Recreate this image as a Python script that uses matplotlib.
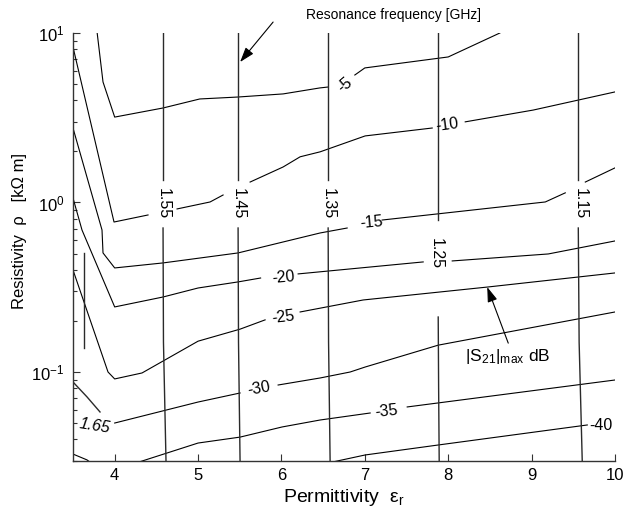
import math
import matplotlib
matplotlib.use("Agg")
import matplotlib.pyplot as plt
from matplotlib.ticker import FixedLocator, FuncFormatter, LogLocator, NullFormatter

plt.rcParams['font.family'] = ['Liberation Sans', 'DejaVu Sans']
plt.rcParams['mathtext.fontset'] = 'custom'
plt.rcParams['mathtext.rm'] = 'Liberation Sans'
plt.rcParams['mathtext.it'] = 'Liberation Sans:italic'
plt.rcParams['mathtext.default'] = 'regular'

# |S21|max contours (dB), each level is a list of (x, y) pieces, gaps where the labels sit
s21_m5 = [([3.79, 3.86, 4.0, 4.58, 5.02, 5.48, 6.02, 6.46, 6.56],
           [10, 5.14, 3.19, 3.61, 4.08, 4.19, 4.37, 4.74, 4.80]),
          ([6.88, 7.0, 8.0, 8.62], [5.65, 6.22, 7.22, 10])]
s21_m10 = [([3.5, 3.944, 3.992, 4.40], [8.27, 0.967, 0.767, 0.844]),
           ([4.748, 5.144, 5.30], [0.916, 1.007, 1.107]),
           ([5.624, 6.02, 6.224, 6.464, 7.004, 7.808], [1.32, 1.62, 1.86, 1.99, 2.47, 2.75]),
           ([8.204, 9.02, 10.0], [2.99, 3.51, 4.49])]
s21_m15 = [([3.5, 3.848, 3.86, 4.0, 4.58, 5.48, 6.464, 6.788],
            [2.75, 0.688, 0.504, 0.411, 0.44, 0.504, 0.661, 0.707]),
           ([7.208, 9.164, 9.404], [0.788, 1.007, 1.14]),
           ([9.644, 10.0], [1.32, 1.60])]
s21_m20 = [([3.5, 3.608, 4.0, 4.58, 5.0, 5.48, 5.75], [1.063, 0.688, 0.242, 0.277, 0.313, 0.340, 0.3585]),
           ([6.20, 7.70], [0.379, 0.446]),
           ([8.048, 9.20, 10.0], [0.452, 0.497, 0.593])]
s21_m25 = [([3.5, 3.92, 4.0, 4.328, 5.0, 5.504, 5.804],
            [0.400, 0.100, 0.091, 0.0987, 0.152, 0.179, 0.203]),
           ([6.224, 6.98, 8.468, 10.0], [0.226, 0.266, 0.317, 0.384])]
s21_m30 = [([4.0, 5.0, 5.504], [0.050, 0.0665, 0.0752]),
           ([5.96, 6.464, 6.824, 7.004, 7.88, 10.0], [0.0838, 0.0922, 0.100, 0.107, 0.144, 0.226])]
s21_m35 = [([4.25, 5.0, 5.504, 6.008, 6.464, 7.064], [0.029, 0.0381, 0.0413, 0.0474, 0.0521, 0.0573]),
           ([7.508, 10.0], [0.0622, 0.0897])]
s21_m40 = [([6.55, 7.004, 7.88, 9.668], [0.029, 0.0324, 0.0371, 0.0487])]
s21_corner = [([3.5, 3.668, 3.72], [0.0328, 0.0303, 0.029])]

s21_levels = [s21_m5, s21_m10, s21_m15, s21_m20, s21_m25, s21_m30, s21_m35, s21_m40, s21_corner]
s21_texts = ['-5', '-10', '-15', '-20', '-25', '-30', '-35', '-40']
s21_text_x = [6.76, 7.988, 7.076, 6.02, 6.02, 5.73, 7.256, 9.836]
s21_text_y = [4.93, 2.87, 0.757, 0.363, 0.211, 0.0794, 0.0589, 0.0481]
s21_text_rot = [40, 8, 5, 5, 7, 10, 6, 0]

# resonance frequency contours (GHz)
f165 = [([3.5, 3.668, 3.824], [0.0873, 0.0713, 0.0581]),
        ([3.632, 3.632], [0.504, 0.1385])]
f155 = [([4.58, 4.58], [10, 1.36]), ([4.58, 4.585, 4.616], [0.707, 0.15, 0.029])]
f145 = [([5.48, 5.48], [10, 1.36]), ([5.48, 5.485, 5.504], [0.707, 0.15, 0.029])]
f135 = [([6.56, 6.56], [10, 1.36]), ([6.56, 6.565, 6.584], [0.707, 0.15, 0.029])]
f125 = [([7.88, 7.88], [10, 0.788]), ([7.88, 7.885, 7.892], [0.211, 0.08, 0.029])]
f115 = [([9.56, 9.56], [10, 1.36]), ([9.56, 9.57, 9.608], [0.707, 0.15, 0.029])]

freq_levels = [f165, f155, f145, f135, f125, f115]
freq_texts = ['1.65', '1.55', '1.45', '1.35', '1.25', '1.15']
freq_text_x = [3.764, 4.58, 5.48, 6.56, 7.856, 9.584]
freq_text_y = [0.0481, 0.98, 0.98, 0.98, 0.497, 0.98]
freq_text_rot = [-9, -90, -90, -90, -90, -90]

x_ticks = [4, 5, 6, 7, 8, 9, 10]
y_ticks = [0.1, 1, 10]

fig = plt.figure(figsize=(6.26, 5.16), dpi=100)
ax = fig.add_axes([0.1166, 0.1066, 0.8658, 0.8295])

for level in s21_levels:
    for xs, ys in level:
        ax.plot(xs, ys, color='black', lw=0.8)
for level in freq_levels:
    for xs, ys in level:
        ax.plot(xs, ys, color='#2a2a2a', lw=1.0)

for t, x, y, r in zip(s21_texts, s21_text_x, s21_text_y, s21_text_rot):
    ax.text(x, y, t, ha='center', va='center', rotation=r, fontsize=11.5,
            rotation_mode='anchor')
for t, x, y, r in zip(freq_texts, freq_text_x, freq_text_y, freq_text_rot):
    # the small tilted label down at the left looks slanted in the original
    ax.text(x, y, t, ha='center', va='center', rotation=r, fontsize=11.5,
            rotation_mode='anchor', style='italic' if r != -90 else 'normal')

ax.set_yscale('log')
ax.set_xlim(3.5, 10)
ax.set_ylim(10 ** -1.525, 10)

ax.xaxis.set_major_locator(FixedLocator(x_ticks))
ax.yaxis.set_major_locator(FixedLocator(y_ticks))
ax.yaxis.set_minor_locator(LogLocator(base=10, subs=range(2, 10)))
ax.yaxis.set_minor_formatter(NullFormatter())
ax.yaxis.set_major_formatter(FuncFormatter(lambda v, p: r'$10^{%d}$' % round(math.log10(v))))

ax.tick_params(which='major', direction='in', length=5, width=0.8, labelsize=12,
               color='#333333', pad=6)
ax.tick_params(which='minor', direction='in', length=3, width=0.8, color='#333333')
ax.tick_params(axis='x', pad=5)
for side in ['top', 'right']:
    ax.spines[side].set_visible(False)
for side in ['left', 'bottom']:
    ax.spines[side].set_color('#333333')
    ax.spines[side].set_linewidth(1.0)

ax.set_xlabel(r'Permittivity  $ε_r$', fontsize=14)
ax.xaxis.set_label_coords(0.50, -0.06)
ax.set_ylabel('Resistivity  ρ   [kΩ m]', fontsize=12)
ax.yaxis.set_label_coords(-0.085, 0.537)

# annotations
arrow_style = dict(arrowstyle='-|>,head_length=0.9,head_width=0.3', color='black',
                   lw=0.8, mutation_scale=10, shrinkA=0, shrinkB=0)
ax.text(7.34, 12.77, 'Resonance frequency [GHz]', ha='center', va='center', fontsize=10,
        clip_on=False)
ax.annotate('', xy=(5.504, 6.74), xytext=(5.90, 11.6), annotation_clip=False,
            arrowprops=arrow_style)
ax.text(8.204, 0.1226, r'|S$_{21}$|$_{max}$ dB', ha='left', va='center', fontsize=12.5)
ax.annotate('', xy=(8.468, 0.317), xytext=(8.72, 0.148), arrowprops=arrow_style)

fig.savefig('out.png', dpi=100)
